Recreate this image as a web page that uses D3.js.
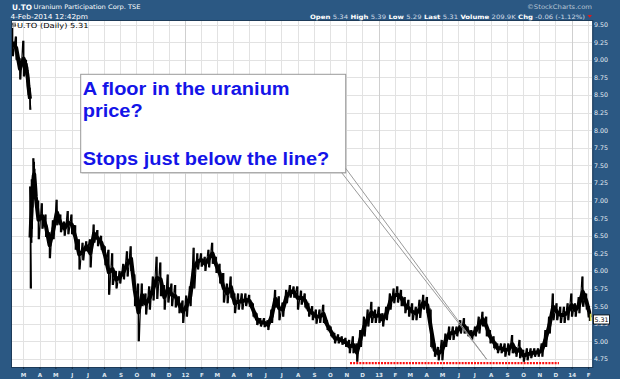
<!DOCTYPE html>
<html><head><meta charset="utf-8">
<script src="https://cdn.jsdelivr.net/npm/d3@7"></script>
<style>html,body{margin:0;padding:0;background:#2b5883;} svg{display:block}</style>
</head><body><svg id="c" width="620" height="379"></svg>
<script>
// ---------------- DATA ----------------
const earlyDates = ["2011-02-09","2011-02-16","2011-02-23","2011-03-02","2011-03-07","2011-03-08","2011-03-09","2011-03-10","2011-03-11","2011-03-14"];
const earlyHigh  = [9.45,9.33,9.02,9.27,9.00,8.95,8.90,8.85,8.75,8.60];
const earlyLow   = [9.05,9.00,8.72,8.76,8.78,8.72,8.68,8.60,8.50,8.29];

const crashDates = ["2011-03-15","2011-03-16","2011-03-17","2011-03-18","2011-03-21","2011-03-22","2011-03-23","2011-03-24","2011-03-25"];
const crashHigh  = [7.20,7.00,7.10,7.30,7.60,7.55,7.45,7.30,7.15];
const crashLow   = [5.75,6.40,6.60,6.90,7.10,7.20,7.10,7.05,6.95];

const weekStart = "2011-03-30"; // weekly points, one per week from here
const weekHigh = [
7.00,6.96,6.80,6.55,6.72,7.01,6.80,6.70,6.85,6.80,
6.65,6.45,6.40,6.42,6.45,6.66,6.58,6.50,6.35,6.30,
6.25,6.00,6.00,6.10,6.28,6.35,5.95,5.82,5.82,5.68,
5.78,5.92,6.20,6.12,5.80,5.95,5.82,5.80,5.64,5.58,
5.65,5.78,6.33,6.25,6.25,6.20,6.30,6.40,6.20,6.10,
5.97,5.82,5.92,5.68,5.68,5.68,5.68,5.66,5.54,5.40,
5.33,5.33,5.30,5.45,5.73,5.64,5.55,5.73,5.80,5.78,
5.78,5.72,5.68,5.54,5.50,5.45,5.45,5.52,5.30,5.21,
5.12,5.10,5.07,5.05,5.02,5.07,4.97,5.16,5.35,5.45,
5.56,5.45,5.49,5.40,5.49,5.68,5.75,5.78,5.73,5.63,
5.59,5.54,5.49,5.59,5.66,5.63,5.45,4.97,4.92,5.02,
5.11,5.21,5.21,5.21,5.30,5.33,5.21,5.16,5.21,5.35,
5.42,5.35,5.16,5.07,4.97,4.97,4.97,4.97,5.09,4.92,
5.02,4.88,4.90,4.90,4.90,4.90,4.97,5.16,5.35,5.68,
5.54,5.49,5.49,5.54,5.68,5.54,5.63,5.92,5.68];
const weekLow = [
6.45,6.60,6.48,6.18,6.45,6.65,6.55,6.50,6.52,6.52,
6.30,6.02,6.15,6.28,6.05,6.40,6.35,6.30,6.08,5.66,
5.80,5.75,5.82,5.88,5.92,6.00,5.50,5.00,5.50,5.38,
5.45,5.58,5.60,5.64,5.45,5.55,5.50,5.48,5.40,5.26,
5.35,5.50,5.75,6.02,6.06,6.00,6.05,6.10,5.97,5.82,
5.55,5.54,5.62,5.40,5.45,5.45,5.50,5.49,5.35,5.23,
5.21,5.20,5.16,5.26,5.48,5.30,5.35,5.54,5.62,5.62,
5.45,5.52,5.48,5.35,5.30,5.25,5.26,5.26,5.16,5.07,
4.97,4.97,4.95,4.92,4.83,4.83,4.71,4.92,5.07,5.21,
5.26,5.26,5.26,5.21,5.30,5.45,5.54,5.55,5.50,5.40,
5.35,5.30,5.30,5.33,5.45,5.40,4.92,4.78,4.73,4.73,
4.92,5.02,5.02,5.07,5.11,5.11,5.07,5.02,5.07,5.11,
5.21,5.07,4.97,4.90,4.83,4.83,4.78,4.80,4.83,4.78,
4.76,4.71,4.73,4.76,4.78,4.78,4.78,4.92,5.11,5.30,
5.30,5.26,5.26,5.30,5.35,5.35,5.40,5.49,5.45];

const lastDates = ["2014-02-03","2014-02-04"];
const lastHigh  = [5.50,5.39];
const lastLow   = [5.34,5.29];
const lastClose = 5.31;

const priceTicks = [4.75,5.00,5.25,5.50,5.75,6.00,6.25,6.50,6.75,7.00,7.25,7.50,7.75,8.00,8.25,8.50,8.75,9.00,9.25,9.50];
const monthLetters = ["J","F","M","A","M","J","J","A","S","O","N","D"];
const floorLine = {start:"2012-11-08", end:"2013-12-08", value:4.69};
const calloutLines = ["A floor in the uranium","price?","","Stops just below the line?"];
const headerQuote = [["Open","5.34"],["High","5.39"],["Low","5.29"],["Last","5.31"],["Volume","209.9K"],["Chg","-0.06 (-1.12%)"]];

// ---------------- SETUP ----------------
const W=620,H=379;
const plot={l:12,t:21,r:592.3,b:367};
const parse=d3.timeParse("%Y-%m-%d");
const svg=d3.select("#c");
const FONT="'DejaVu Sans', Verdana, sans-serif";

svg.append("rect").attr("width",W).attr("height",H).attr("fill","#2b5883");
svg.append("rect").attr("x",plot.l).attr("y",plot.t).attr("width",plot.r-plot.l).attr("height",plot.b-plot.t).attr("fill","#fff");

const x=d3.scaleTime().domain([parse("2011-02-08"),parse("2014-02-09")]).range([plot.l,plot.r]);
const y=d3.scaleLinear().domain([9.5,4.75]).range([24.5,24.5+4.75*70.4]);

svg.append("defs").append("clipPath").attr("id","clip").append("rect")
  .attr("x",plot.l).attr("y",plot.t).attr("width",plot.r-plot.l).attr("height",plot.b-plot.t);

// grid
const months = x.ticks(d3.timeMonth.every(1));
const grid=svg.append("g");
grid.selectAll("line.h").data(priceTicks).join("line").attr("class","h")
  .attr("x1",plot.l).attr("x2",plot.r).attr("y1",d=>Math.round(y(d))+0.5).attr("y2",d=>Math.round(y(d))+0.5)
  .attr("stroke","#e2e2e2").attr("stroke-width",1);
grid.selectAll("line.v").data(months).join("line").attr("class","v")
  .attr("x1",d=>Math.round(x(d))+0.5).attr("x2",d=>Math.round(x(d))+0.5).attr("y1",plot.t).attr("y2",plot.b)
  .attr("stroke",d=>d.getMonth()===0?"#cfcfcf":"#e2e2e2").attr("stroke-width",1);

// build series
const seg1 = earlyDates.map((d,i)=>({date:parse(d),high:earlyHigh[i],low:earlyLow[i]}));
const ws = parse(weekStart);
const seg2 = crashDates.map((d,i)=>({date:parse(d),high:crashHigh[i],low:crashLow[i]}))
  .concat(weekHigh.map((h,i)=>({date:d3.timeDay.offset(ws,7*i),high:h,low:weekLow[i]})))
  .concat(lastDates.map((d,i)=>({date:parse(d),high:lastHigh[i],low:lastLow[i]})));

const dg=svg.append("g").attr("clip-path","url(#clip)");
const mid=d3.line().x(d=>x(d.date)).y(d=>y((d.high+d.low)/2));
[seg1,seg2].forEach(s=>{
  // high-low bars
  dg.append("g").selectAll("line").data(s).join("line")
    .attr("x1",d=>x(d.date)).attr("x2",d=>x(d.date)).attr("y1",d=>y(d.high)).attr("y2",d=>y(d.low))
    .attr("stroke","#000").attr("stroke-width",1.6);
  // ragged core connecting highs and lows alternately
  dg.append("path").datum(s).attr("d",mid).attr("fill","none").attr("stroke","#000").attr("stroke-width",4).attr("stroke-linejoin","round");
  const zig=[];
  s.forEach((d,i)=>{ zig.push([x(d.date)-0.9,y(d.high)]); zig.push([x(d.date)+0.9,y(d.low)]); });
  dg.append("path").attr("d",d3.line()(zig)).attr("fill","none").attr("stroke","#000").attr("stroke-width",1.1);
});
// last bar in yellow
const lb=seg2[seg2.length-1];
dg.append("line").attr("x1",x(lb.date)+1).attr("x2",x(lb.date)+1).attr("y1",y(lb.high)).attr("y2",y(lb.low))
  .attr("stroke","#d2d24a").attr("stroke-width",1.6);

// floor line
svg.append("line").attr("x1",x(parse(floorLine.start))).attr("x2",x(parse(floorLine.end)))
  .attr("y1",y(floorLine.value)).attr("y2",y(floorLine.value))
  .attr("stroke","#ff1010").attr("stroke-width",2.4).attr("stroke-dasharray","2,1.1");

// plot border
svg.append("rect").attr("x",plot.l-0.5).attr("y",plot.t-0.5).attr("width",plot.r-plot.l+1).attr("height",plot.b-plot.t+1)
  .attr("fill","none").attr("stroke","#1d3b59").attr("stroke-width",1);

// right axis
const ya=d3.axisRight(y).tickValues(priceTicks).tickFormat(d3.format(".2f")).tickSize(0).tickPadding(0);
const yg=svg.append("g").attr("transform",`translate(594,0)`).call(ya);
yg.select(".domain").remove();
yg.selectAll("text").attr("font-family",FONT).attr("font-size",6.3).attr("fill","#e8eef5").attr("x",0);

// bottom axis
const xa=d3.axisBottom(x).tickValues(months).tickSize(2).tickPadding(4.5)
  .tickFormat(d=>d.getMonth()===0?d3.timeFormat("%y")(d):monthLetters[d.getMonth()]);
const xg=svg.append("g").attr("transform",`translate(0,${plot.b})`).call(xa);
xg.select(".domain").remove();
xg.selectAll(".tick line").attr("stroke","#14283d");
xg.selectAll("text").attr("font-family",FONT).attr("font-size",5.6).attr("font-weight","bold").attr("fill","#dde5ee");

// last price box (covers the 5.25 label as in the original)
const lpY=y(lastClose);
svg.append("rect").attr("x",593.5).attr("y",lpY-4.5).attr("width",16).attr("height",9).attr("fill","#fff").attr("stroke","#000").attr("stroke-width",0.8);
svg.append("text").attr("x",601.5).attr("y",lpY+2.3).attr("text-anchor","middle").attr("font-family",FONT).attr("font-size",6.3).attr("fill","#000").text(d3.format(".2f")(lastClose));

// header texts
const hdr=svg.append("g").attr("font-family",FONT);
hdr.append("text").attr("x",12).attr("y",9.5).attr("font-size",7.5).attr("font-weight","bold").attr("fill","#fff")
  .attr("textLength",20).attr("lengthAdjust","spacingAndGlyphs").text("U.TO");
hdr.append("text").attr("x",33.5).attr("y",9.3).attr("font-size",6.2).attr("fill","#fff")
  .attr("textLength",107).attr("lengthAdjust","spacingAndGlyphs").text("Uranium Participation Corp. TSE");
hdr.append("text").attr("x",10.5).attr("y",18.5).attr("font-size",6.8).attr("fill","#fff")
  .attr("textLength",77.5).attr("lengthAdjust","spacingAndGlyphs").text("4-Feb-2014 12:42pm");
hdr.append("text").attr("x",527).attr("y",9.3).attr("font-size",6.3).attr("fill","#b9c6d4")
  .attr("textLength",65).attr("lengthAdjust","spacingAndGlyphs").text("\u00A9StockCharts.com");
const q=hdr.append("text").attr("x",310).attr("y",18.5).attr("font-size",6).attr("fill","#fff")
  .attr("textLength",275).attr("lengthAdjust","spacingAndGlyphs");
headerQuote.forEach(([k,v],i)=>{
  q.append("tspan").attr("font-weight","bold").attr("fill","#fff").text((i?" ":"")+k+" ");
  q.append("tspan").attr("fill","#d0dbe6").text(v);
});
svg.append("path").attr("d","M587.5,15 L592,15 L589.75,17.8 Z").attr("fill","#e01818");

// in-plot label
svg.append("path").attr("d","M13,22.5 V27.5 M12,24 H13 M15,22.5 V27 M15,25 H16").attr("stroke","#000").attr("stroke-width",0.8).attr("fill","none");
svg.append("text").attr("x",17).attr("y",27.5).attr("font-family",FONT).attr("font-size",7).attr("fill","#000")
  .attr("textLength",71.5).attr("lengthAdjust","spacingAndGlyphs").text("U.TO (Daily) 5.31");

// callout
const box={x:80.7,y:74.3,w:265,h:98.4};
const tip=[486.7,359.3];
svg.append("rect").attr("x",box.x+1).attr("y",box.y+1).attr("width",box.w).attr("height",box.h).attr("fill","#d8d8d8");
svg.append("rect").attr("x",box.x).attr("y",box.y).attr("width",box.w).attr("height",box.h).attr("fill","#fff").attr("stroke","#9a9a9a").attr("stroke-width",1);
svg.append("path").attr("d",`M341.7,${box.y+box.h} L${tip[0]},${tip[1]} M${box.x+box.w},168.3 L${tip[0]},${tip[1]}`)
  .attr("stroke","#9a9a9a").attr("stroke-width",1).attr("fill","none");
const baselines=[95.3,117.3,141,165.3];
calloutLines.forEach((t,i)=>{
  if(!t) return;
  svg.append("text").attr("transform",`translate(82.7,${baselines[i]}) scale(1,0.89)`)
    .attr("font-family","'Liberation Sans', Arial, sans-serif").attr("font-weight","bold").attr("font-size",20)
    .attr("fill","#1414e8").text(t);
});
</script></body></html>
